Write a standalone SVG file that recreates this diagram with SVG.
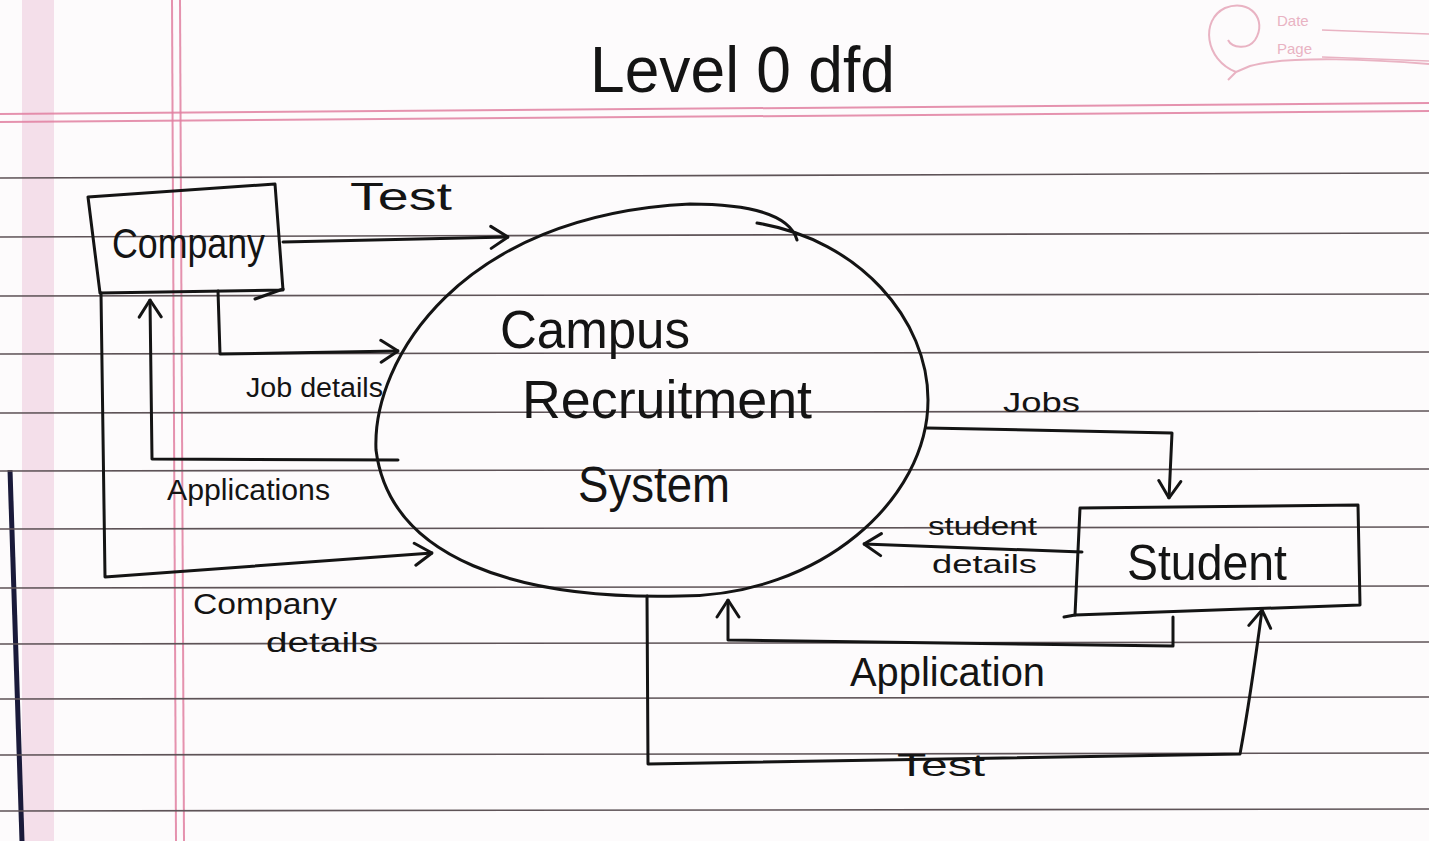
<svg xmlns="http://www.w3.org/2000/svg" width="1429" height="841" viewBox="0 0 1429 841">
  <style>
    .rule { stroke: #5e5357; stroke-width: 1.6; fill: none; }
    .pink { stroke: #e07fa0; stroke-width: 2; fill: none; opacity: 0.85; }
    .ink { stroke: #141414; stroke-width: 3; fill: none; stroke-linejoin: round; stroke-linecap: round; }
    .hand { font-family: "Liberation Sans", "DejaVu Sans", sans-serif; fill: #141414; }
    .logo { font-family: "Liberation Sans", sans-serif; fill: #e9b3c3; font-size: 15px; }
  </style>
  <defs>
    <marker id="arrow" viewBox="0 0 20 26" refX="19" refY="13" markerWidth="20" markerHeight="26" markerUnits="userSpaceOnUse" orient="auto">
      <path d="M2,2 L19,13 L2,24" fill="none" stroke="#141414" stroke-width="3" stroke-linecap="round" stroke-linejoin="round"/>
    </marker>
  </defs>

  <!-- paper -->
  <rect x="0" y="0" width="1429" height="841" fill="#fdfbfc"/>
  <rect x="22" y="0" width="32" height="841" fill="#f0d3e2" opacity="0.7"/>
  <path d="M10,470 L22,841" stroke="#1a1a3a" stroke-width="5" fill="none"/>
  <g id="paper-lines">
    <path class="pink" d="M0,114 L1429,103"/>
    <path class="pink" d="M0,122 L1429,111"/>
    <path class="pink" d="M172,0 L176,841"/>
    <path class="pink" d="M180,0 L184,841"/>
    <path class="rule" d="M0,178 L1429,173"/>
    <path class="rule" d="M0,237 L1429,233"/>
    <path class="rule" d="M0,296 L1429,294"/>
    <path class="rule" d="M0,354 L1429,352"/>
    <path class="rule" d="M0,413 L1429,411"/>
    <path class="rule" d="M0,471 L1429,469"/>
    <path class="rule" d="M0,529 L1429,527"/>
    <path class="rule" d="M0,588 L1429,586"/>
    <path class="rule" d="M0,644 L1429,642"/>
    <path class="rule" d="M0,699 L1429,697"/>
    <path class="rule" d="M0,755 L1429,753"/>
    <path class="rule" d="M0,811 L1429,809"/>
  </g>

  <!-- Date / Page logo -->
  <g id="page-logo">
    <path d="M1236,72 C1205,60 1200,20 1225,8 C1250,-2 1268,20 1255,40 C1248,50 1232,48 1228,40" stroke="#e9b3c3" stroke-width="2" fill="none"/>
    <path d="M1236,72 L1228,80 M1236,72 L1250,66 C1290,55 1380,60 1429,64" stroke="#e9b3c3" stroke-width="2" fill="none"/>
    <text class="logo" x="1277" y="26">Date</text>
    <text class="logo" x="1277" y="54">Page</text>
    <path d="M1322,30 L1429,34 M1322,57 L1429,61" stroke="#e9b3c3" stroke-width="1.5" fill="none"/>
  </g>

  <!-- title -->
  <g id="title">
    <text class="hand" x="590" y="92" font-size="64" textLength="305" lengthAdjust="spacingAndGlyphs">Level 0 dfd</text>
  </g>

  <!-- connectors -->
  <g id="connectors">
    <g id="c-test-top">
      <path class="ink" d="M283,242 L508,237" marker-end="url(#arrow)"/>
      <text class="hand" x="350" y="210" font-size="38" textLength="102" lengthAdjust="spacingAndGlyphs">Test</text>
    </g>
    <g id="c-job-details">
      <path class="ink" d="M218,291 L220,354 L398,351" marker-end="url(#arrow)"/>
      <text class="hand" x="246" y="397" font-size="27" textLength="137" lengthAdjust="spacingAndGlyphs">Job details</text>
    </g>
    <g id="c-applications">
      <path class="ink" d="M398,460 L152,459 L150,300" marker-end="url(#arrow)"/>
      <text class="hand" x="167" y="500" font-size="29" textLength="163" lengthAdjust="spacingAndGlyphs">Applications</text>
    </g>
    <g id="c-company-details">
      <path class="ink" d="M101,293 L105,577 L432,553" marker-end="url(#arrow)"/>
      <text class="hand" x="193" y="614" font-size="30" textLength="144" lengthAdjust="spacingAndGlyphs">Company</text>
      <text class="hand" x="266" y="652" font-size="28" textLength="112" lengthAdjust="spacingAndGlyphs">details</text>
    </g>
    <g id="c-jobs">
      <path class="ink" d="M927,428 L1172,433 L1169,498" marker-end="url(#arrow)"/>
      <text class="hand" x="1003" y="412" font-size="28" textLength="77" lengthAdjust="spacingAndGlyphs">Jobs</text>
    </g>
    <g id="c-student-details">
      <path class="ink" d="M1082,552 L864,544" marker-end="url(#arrow)"/>
      <text class="hand" x="928" y="535" font-size="26" textLength="109" lengthAdjust="spacingAndGlyphs">student</text>
      <text class="hand" x="932" y="573" font-size="26" textLength="105" lengthAdjust="spacingAndGlyphs">details</text>
    </g>
    <g id="c-application">
      <path class="ink" d="M1173,617 L1173,646 L728,640 L728,600" marker-end="url(#arrow)"/>
      <text class="hand" x="850" y="686" font-size="40" textLength="195" lengthAdjust="spacingAndGlyphs">Application</text>
    </g>
    <g id="c-test-bottom">
      <path class="ink" d="M647,596 L648,764 L1240,754 Q1250,700 1262,610" marker-end="url(#arrow)"/>
      <text class="hand" x="897" y="776" font-size="32" textLength="88" lengthAdjust="spacingAndGlyphs">Test</text>
    </g>
  </g>

  <!-- nodes -->
  <g id="company">
    <path class="ink" d="M88,197 L275,184 L283,290 L100,293 Z"/>
    <path class="ink" d="M283,289 L255,299"/>
    <text class="hand" x="112" y="258" font-size="42" textLength="153" lengthAdjust="spacingAndGlyphs">Company</text>
  </g>

  <g id="system">
    <path class="ink" d="M757,223 C860,240 928,320 928,400 C928,500 820,596 680,596 C520,600 390,560 376,450 C372,360 460,215 690,204 C750,204 790,215 797,240"/>
    <text class="hand" x="500" y="348" font-size="54" textLength="190" lengthAdjust="spacingAndGlyphs">Campus</text>
    <text class="hand" x="522" y="418" font-size="54" textLength="290" lengthAdjust="spacingAndGlyphs">Recruitment</text>
    <text class="hand" x="578" y="502" font-size="50" textLength="152" lengthAdjust="spacingAndGlyphs">System</text>
  </g>

  <g id="student">
    <path class="ink" d="M1080,508 L1358,505 L1360,605 L1075,615 Z"/>
    <path class="ink" d="M1075,615 L1064,617"/>
    <text class="hand" x="1127" y="580" font-size="50" textLength="160" lengthAdjust="spacingAndGlyphs">Student</text>
  </g>
</svg>
